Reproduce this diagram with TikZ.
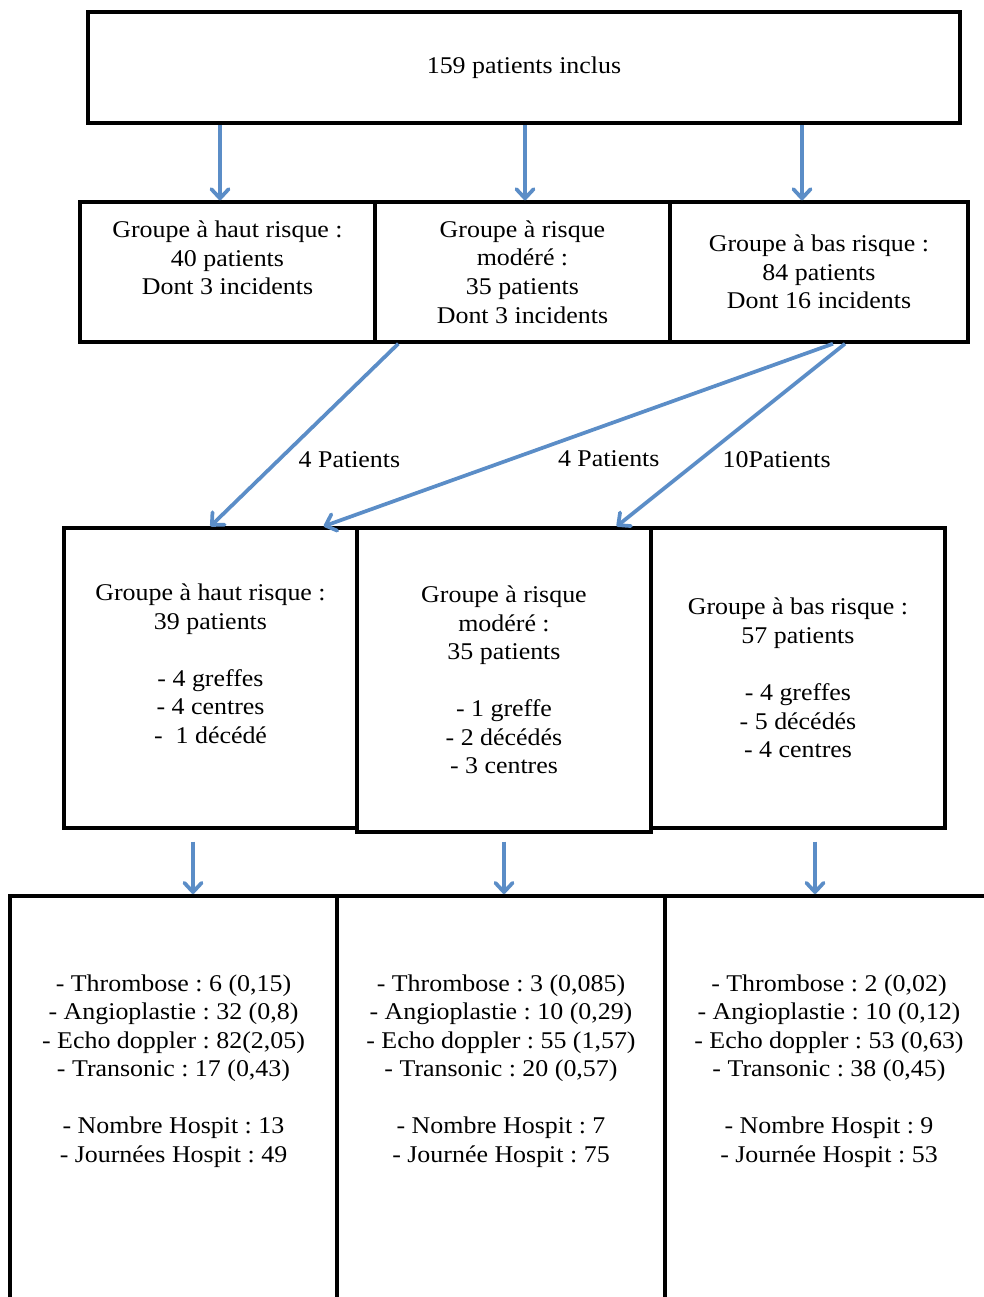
\documentclass[tikz,border=0pt]{standalone}
\usepackage{fontspec}
\setmainfont{Liberation Serif}[FakeStretch=1.08]
\frenchspacing
\usepackage{tikz}
\usetikzlibrary{arrows.meta}
\definecolor{arrowblue}{RGB}{91,141,199}
\def\pix{0.75pt}
\tikzset{
    box/.style={draw, rectangle, line width=2.6pt, align=center, inner sep=0pt,
        font=\fontsize{18}{21.4}\selectfont},
    res/.style={box, line width=3.2pt, anchor=north, minimum height=600*\pix},
    txt/.style={align=center, inner sep=0pt, font=\fontsize{18}{21.4}\selectfont},
    lbl/.style={anchor=west, inner sep=0pt, font=\fontsize{18}{21.4}\selectfont},
    flow/.style={draw=arrowblue, line width=2.8pt,
        -{Straight Barb[length=7pt,width=13pt,round]}}
}

\begin{document}
\begin{tikzpicture}[x=\pix, y=-\pix]
    
    % Frame of the page
    \clip (0,0) rectangle (984,1297);
    
    % Draw the top box
    \node[box, line width=3pt, minimum width=872*\pix, minimum height=111*\pix] (top) at (524,67.5) {159 patients inclus};
    
    % Draw the first groups
    \node[box, minimum width=295*\pix, minimum height=140*\pix] (b1) at (227.5,272)
        {Groupe à haut risque :\\40 patients\\Dont 3 incidents\\\mbox{}};
    \node[box, minimum width=295*\pix, minimum height=140*\pix] (b2) at (522.5,272)
        {Groupe à risque\\modéré :\\35 patients\\Dont 3 incidents};
    \node[box, minimum width=298*\pix, minimum height=140*\pix] (b3) at (819,272)
        {Groupe à bas risque :\\84 patients\\Dont 16 incidents};
    
    % Draw the groups after reclassification
    \node[box, minimum width=293*\pix, minimum height=300*\pix] (g1) at (210.5,678)
        {Groupe à haut risque :\\39 patients\\[21.4pt]- 4 greffes\\- 4 centres\\-~ 1 décédé\\\mbox{}};
    \node[box, minimum width=294*\pix, minimum height=304*\pix] (g2) at (504,680)
        {Groupe à risque\\modéré :\\35 patients\\[21.4pt]- 1 greffe\\- 2 décédés\\- 3 centres};
    \node[box, minimum width=294*\pix, minimum height=300*\pix] (g3) at (798,678)
        {Groupe à bas risque :\\57 patients\\[21.4pt]- 4 greffes\\- 5 décédés\\- 4 centres};
    
    % Draw the result boxes (open at the bottom)
    \node[res, minimum width=327*\pix] (r1) at (173.5,894) {};
    \node[res, minimum width=328*\pix] (r2) at (501,894) {};
    \node[res, minimum width=328*\pix] (r3) at (829,894) {};
    
    % Results of each group
    \node[txt] (d1) at ([yshift=-177*\pix]r1.north)
        {- Thrombose : 6 (0,15)\\- Angioplastie : 32 (0,8)\\- Echo doppler : 82(2,05)\\- Transonic : 17 (0,43)\\[21.4pt]- Nombre Hospit : 13\\- Journées Hospit : 49};
    \node[txt] (d2) at ([yshift=-177*\pix]r2.north)
        {- Thrombose : 3 (0,085)\\- Angioplastie : 10 (0,29)\\- Echo doppler : 55 (1,57)\\- Transonic : 20 (0,57)\\[21.4pt]- Nombre Hospit : 7\\- Journée Hospit : 75};
    \node[txt] (d3) at ([yshift=-177*\pix]r3.north)
        {- Thrombose : 2 (0,02)\\- Angioplastie : 10 (0,12)\\- Echo doppler : 53 (0,63)\\- Transonic : 38 (0,45)\\[21.4pt]- Nombre Hospit : 9\\- Journée Hospit : 53};
    
    % Arrows from the top box
    \draw[flow] ([xshift=-7.5*\pix]top.south -| b1.north) -- ([xshift=-7.5*\pix]b1.north);
    \draw[flow] ([xshift=2.5*\pix]top.south -| b2.north) -- ([xshift=2.5*\pix]b2.north);
    \draw[flow] ([xshift=-17*\pix]top.south -| b3.north) -- ([xshift=-17*\pix]b3.north);
    
    % Patients moving between groups
    \draw[flow] ([xshift=25*\pix]b2.south west) -- (g1.north)
        node[lbl, pos=0.636, xshift=18*\pix] {4 Patients};
    \draw[flow] ([xshift=14*\pix]b3.south) -- ([xshift=-35*\pix]g1.north east)
        node[lbl, pos=0.632, xshift=45*\pix] {4 Patients};
    \draw[flow] ([xshift=26*\pix]b3.south) -- ([xshift=-36*\pix]g2.north east)
        node[lbl, pos=0.636, xshift=21*\pix] {10Patients};
    
    % Arrows to the results
    \draw[flow, shorten <=9pt] ([xshift=-17.5*\pix]g1.south) -- ([xshift=-17.5*\pix]g1.south |- r1.north);
    \draw[flow, shorten <=6pt] (g2.south) -- (g2.south |- r2.north);
    \draw[flow, shorten <=9pt] ([xshift=17*\pix]g3.south) -- ([xshift=17*\pix]g3.south |- r3.north);
\end{tikzpicture}
\end{document}
